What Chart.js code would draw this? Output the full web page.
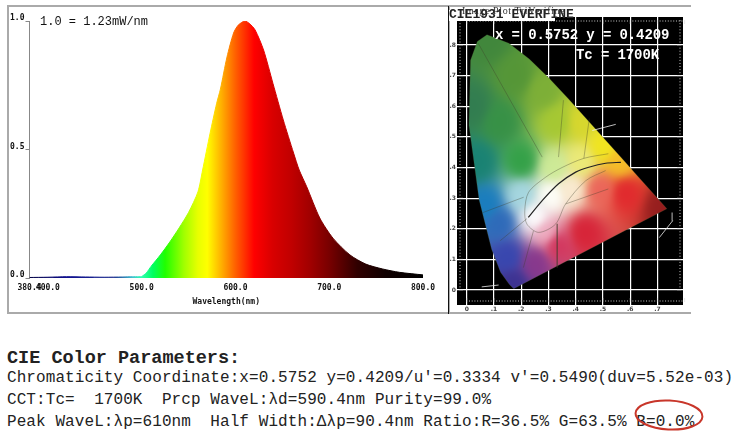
<!DOCTYPE html>
<html>
<head>
<meta charset="utf-8">
<script src="https://cdn.jsdelivr.net/npm/chart.js@4/dist/chart.umd.min.js"></script>
<style>
html, body { margin: 0; padding: 0; background: #fff; }
body { width: 750px; height: 432px; position: relative; overflow: hidden; }
canvas { position: absolute; }
.frame { position: absolute; box-sizing: border-box; }
.t { position: absolute; white-space: pre; font-family: "Liberation Mono", monospace; color: #222; }
</style>
</head>
<body>
<div class="frame" style="left:7px;top:5px;width:684px;height:309px;border:2px solid #aaa;border-right:none"></div>
<div class="frame" style="left:7px;top:5px;width:443px;height:309px;border-right:1px solid #aaa"></div>
<canvas id="spectrum" width="449" height="314" style="left:0;top:0"></canvas>
<canvas id="cie" width="242" height="307" style="left:449px;top:7px"></canvas>
<div class="frame" style="left:448px;top:6px;width:1px;height:308px;background:#111"></div>

<div class="t" style="left:40px;top:15px;font-size:12px;color:#111">1.0 = 1.23mW/nm</div>

<div class="t" style="left:449px;top:10px;width:106px;height:11px;background:#fff"></div>
<div class="t" style="left:449px;top:7px;font-size:13px;font-weight:bold;color:#222">CIE1931 EVERFINE</div>
<div class="t" style="left:462px;top:5px;font-size:10px;font-family:'Liberation Serif';color:#333;letter-spacing:.6px">Image Plot TriVerifine</div>
<div class="t" style="left:495px;top:27px;font-size:14px;font-weight:bold;color:#fff;letter-spacing:-.1px">x = 0.5752 y = 0.4209</div>
<div class="t" style="left:576px;top:47px;font-size:14px;font-weight:bold;color:#fff;letter-spacing:-.1px">Tc = 1700K</div>

<div class="t" style="left:7px;top:348px;font-size:18.5px;font-weight:bold">CIE Color Parameters:</div>
<div class="t" style="left:7px;top:369px;font-size:16px;letter-spacing:.08px">Chromaticity Coordinate:x=0.5752 y=0.4209/u'=0.3334 v'=0.5490(duv=5.52e-03)</div>
<div class="t" style="left:7px;top:391px;font-size:16px;letter-spacing:.08px">CCT:Tc=  1700K  Prcp WaveL:λd=590.4nm Purity=99.0%</div>
<div class="t" style="left:7px;top:413px;font-size:16px;letter-spacing:.08px">Peak WaveL:λp=610nm  Half Width:Δλp=90.4nm Ratio:R=36.5% G=63.5% B=0.0%</div>
<svg style="position:absolute;left:630px;top:395px" width="80" height="37"><ellipse cx="39" cy="20" rx="33.5" ry="14.5" fill="none" stroke="#c8362a" stroke-width="2" transform="rotate(3 39 20)"/></svg>

<script>
// spectrum
var wavelengths = [380.4,400,420,440,460,480,490,497,500,505,510,520,530,540,550,560,565,573,580,584,591,598,603,610,615,621,630,640,651,662,668,676,690,704,722,739,757,775,800];
var power = [0.002,0.003,0.005,0.004,0.003,0.004,0.005,0.005,0.006,0.02,0.045,0.09,0.14,0.195,0.255,0.335,0.42,0.564,0.68,0.735,0.86,0.953,0.984,1,0.99,0.965,0.887,0.757,0.615,0.486,0.42,0.355,0.233,0.155,0.09,0.054,0.035,0.022,0.012];
var xTickValues = [380.4,400,500,600,700,800];
var yTickValues = [0,0.5,1];

var stopWave = [380,420,470,490,500,512,525,545,560,570,585,600,610,620,640,660,680,700,730,760,800];
var stopColor = ['#000040','#101090','#203090','#40c0d0','#30ffb0','#00ff60','#20ff00','#a0ff00','#e8ff00','#ffff00','#ffb000','#ff6000','#ff3000','#ff0000','#d80000','#c00000','#a00000','#780000','#300000','#100000','#000000'];

// CIE diagram
var locusX = [0.1741,0.1714,0.1566,0.1241,0.0913,0.0454,0.0082,0.0139,0.0389,0.0743,0.1547,0.2296,0.3016,0.3731,0.4441,0.5125,0.5752,0.6270,0.6915,0.7260,0.7347,0.1741];
var locusY = [0.0050,0.0051,0.0177,0.0578,0.1327,0.2950,0.5384,0.7502,0.8120,0.8338,0.8059,0.7543,0.6923,0.6245,0.5547,0.4866,0.4242,0.3725,0.3083,0.2740,0.2653,0.0050];
var planckX = [0.226,0.277,0.337,0.40,0.448,0.51,0.566];
var planckY = [0.237,0.292,0.347,0.385,0.401,0.414,0.417];
var whiteX = [0.510,0.437,0.363,0.326,0.264,0.221,0.213,0.227,0.289,0.35,0.43,0.52];
var whiteY = [0.390,0.357,0.281,0.215,0.188,0.215,0.259,0.319,0.368,0.40,0.43,0.445];
var spokes = [
  [[0.06,0.253],[0.209,0.303]],
  [[0.123,0.161],[0.221,0.233]],
  [[0.245,0.193],[0.208,0.073]],
  [[0.332,0.216],[0.332,0.073]],
  [[0.042,0.806],[0.277,0.434]],
  [[0.355,0.62],[0.337,0.434]],
  [[0.363,0.281],[0.52,0.33]],
  [[0.45,0.56],[0.43,0.43]]
];
var callouts = [
  [[0.707,0.171],[0.756,0.226],[0.754,0.253]],
  [[0.055,0.01],[0.117,0.016]],
  [[0.461,0.521],[0.547,0.541]]
];
var cieTicks = [0,0.1,0.2,0.3,0.4,0.5,0.6,0.7];
var cieYTicks = [0,0.1,0.2,0.3,0.4,0.5,0.6,0.7,0.8];

// colour anchors for the diagram, x, y, r, g, b
var anchors = [
  [0.08,0.82,65,135,60],[0.02,0.60,50,125,80],[0.18,0.70,85,150,55],[0.28,0.65,125,175,55],
  [0.04,0.42,25,130,115],[0.12,0.55,55,145,70],[0.20,0.42,50,160,70],[0.33,0.55,165,200,50],
  [0.42,0.55,215,215,45],[0.50,0.47,240,230,30],[0.56,0.42,245,190,40],[0.42,0.42,235,235,120],
  [0.32,0.40,205,235,150],[0.07,0.28,25,125,190],[0.12,0.22,45,105,185],[0.20,0.31,165,215,225],
  [0.31,0.31,255,255,250],[0.25,0.24,255,255,255],[0.38,0.33,250,235,210],[0.15,0.11,55,70,175],
  [0.17,0.02,60,50,145],[0.25,0.09,135,55,140],[0.33,0.15,210,50,90],[0.43,0.19,215,35,55],
  [0.58,0.32,225,40,45],[0.72,0.27,150,30,30],[0.49,0.33,235,100,90],[0.29,0.19,240,175,195]
];

var monoTick = { family: '"DejaVu Sans Mono", monospace', size: 8, weight: 'bold' };

function mixStops(chart) {
  var a = chart.chartArea, sx = chart.scales.x;
  var g = chart.ctx.createLinearGradient(a.left, 0, a.right, 0);
  for (var i = 0; i < stopWave.length; i++) {
    var p = (sx.getPixelForValue(stopWave[i]) - a.left) / (a.right - a.left);
    g.addColorStop(Math.min(1, Math.max(0, p)), stopColor[i]);
  }
  return g;
}

function specFill(ctx) {
  if (!ctx.chart.chartArea) return '#c00';
  return mixStops(ctx.chart);
}

new Chart(document.getElementById('spectrum'), {
  type: 'line',
  data: {
    datasets: [{
      data: wavelengths.map(function (w, i) { return { x: w, y: power[i] }; }),
      fill: 'origin',
      backgroundColor: specFill,
      borderColor: specFill,
      borderWidth: 1,
      tension: 0.25,
      pointRadius: 0
    }]
  },
  options: {
    responsive: false,
    animation: false,
    devicePixelRatio: 1,
    events: [],
    layout: { padding: { left: 0, top: 21, right: 26, bottom: 7 } },
    plugins: { legend: { display: false }, tooltip: { enabled: false } },
    scales: {
      x: {
        type: 'linear', min: 380.4, max: 800,
        afterBuildTicks: function (s) { s.ticks = xTickValues.map(function (v) { return { value: v }; }); },
        afterFit: function (s) { s.height = 29; },
        grid: { display: false, drawTicks: false },
        border: { display: false },
        title: { display: true, text: 'Wavelength(nm)', color: '#111', font: monoTick, padding: { top: 6, bottom: 0 } },
        ticks: { autoSkip: false, maxRotation: 0, color: '#111', font: monoTick, padding: 5,
          callback: function (v) { return v.toFixed(1); } }
      },
      y: {
        min: 0, max: 1,
        afterBuildTicks: function (s) { s.ticks = yTickValues.map(function (v) { return { value: v }; }); },
        afterFit: function (s) { s.width = 29.5; },
        grid: { drawOnChartArea: false, color: '#888', tickLength: 4 },
        border: { color: '#888', width: 1 },
        ticks: { color: '#111', font: monoTick, padding: 1, labelOffset: -3,
          callback: function (v) { return v.toFixed(1); } }
      }
    }
  }
});

// paints the diagram colours once, then it is used as the fill of the locus
var meshPattern = null;
function meshFill(ctx) {
  var chart = ctx.chart;
  if (!chart.chartArea) return '#888';
  if (meshPattern) return meshPattern;
  var a = chart.chartArea, sx = chart.scales.x, sy = chart.scales.y;
  var off = document.createElement('canvas');
  off.width = chart.width; off.height = chart.height;
  var o = off.getContext('2d');
  var img = o.createImageData(off.width, off.height);
  for (var py = Math.floor(a.top); py < a.bottom; py++) {
    for (var px = Math.floor(a.left); px < a.right; px++) {
      var vx = sx.getValueForPixel(px), vy = sy.getValueForPixel(py);
      var r = 0, g = 0, b = 0, w = 0;
      for (var i = 0; i < anchors.length; i++) {
        var c = anchors[i];
        var d = (vx - c[0]) * (vx - c[0]) + (vy - c[1]) * (vy - c[1]) + 0.0012;
        var k = 1 / (d * d);
        r += k * c[2]; g += k * c[3]; b += k * c[4]; w += k;
      }
      var n = (py * off.width + px) * 4;
      img.data[n] = r / w; img.data[n + 1] = g / w; img.data[n + 2] = b / w; img.data[n + 3] = 255;
    }
  }
  o.putImageData(img, 0, 0);
  meshPattern = chart.ctx.createPattern(off, 'no-repeat');
  return meshPattern;
}

function pairs(xs, ys) {
  return xs.map(function (x, i) { return { x: x, y: ys[i] }; });
}

function polyLine(s, color, width) {
  return { data: s.map(function (p) { return { x: p[0], y: p[1] }; }), showLine: true, borderColor: color, borderWidth: width, pointRadius: 0, order: 1 };
}
var thinLines = spokes.map(function (s) { return polyLine(s, 'rgba(60,60,40,.5)', 0.7); });
var whiteLines = callouts.map(function (s) { return polyLine(s, '#eee', 0.8); });

var black = {
  id: 'black',
  beforeDraw: function (chart) {
    var a = chart.chartArea;
    chart.ctx.fillStyle = '#000';
    chart.ctx.fillRect(a.left, a.top, a.right - a.left, a.bottom - a.top);
  },
  // little ruler marks round the black area
  afterDatasetsDraw: function (chart) {
    var a = chart.chartArea, c = chart.ctx, sx = chart.scales.x, sy = chart.scales.y;
    c.strokeStyle = '#ccc'; c.lineWidth = 0.5; c.beginPath();
    for (var i = 0; i <= 80; i++) {
      var px = sx.getPixelForValue(i / 100);
      c.moveTo(px, a.top + 3); c.lineTo(px, a.top + (i % 10 ? 5 : 7));
      c.moveTo(px, a.bottom - 3); c.lineTo(px, a.bottom - (i % 10 ? 5 : 7));
    }
    for (var j = 0; j <= 88; j++) {
      var py = sy.getPixelForValue(j / 100);
      c.moveTo(a.left + 2, py); c.lineTo(a.left + (j % 10 ? 4 : 6), py);
      c.moveTo(a.right - 2, py); c.lineTo(a.right - (j % 10 ? 4 : 6), py);
    }
    c.stroke();
  }
};

function cieLabel(v) {
  return v === 0 ? '0' : v.toFixed(1).slice(1);
}
var tinyTick = { family: '"DejaVu Sans", sans-serif', size: 6, weight: 'bold' };
function cieAxis(extra, list, size, isH) {
  return Object.assign({
    type: 'linear',
    afterBuildTicks: function (s) { s.ticks = list.map(function (v) { return { value: v }; }); },
    afterFit: function (s) { if (isH) s.height = size; else s.width = size; },
    border: { display: false },
    grid: { color: '#fff', lineWidth: 1.2, tickLength: 0 },
    ticks: { autoSkip: false, maxRotation: 0, color: '#444', font: tinyTick, padding: 1, callback: cieLabel }
  }, extra);
}

new Chart(document.getElementById('cie'), {
  type: 'scatter',
  data: {
    datasets: thinLines.concat(whiteLines, [
      { data: pairs(planckX, planckY), showLine: true, borderColor: '#222', borderWidth: 1.2, pointRadius: 0, tension: 0.3, order: 0 },
      { data: pairs(whiteX, whiteY), showLine: true, borderColor: 'rgba(60,60,40,.5)', borderWidth: 0.7, pointRadius: 0, tension: 0.3, order: 1 },
      { data: pairs(locusX, locusY), showLine: true, fill: 'shape', backgroundColor: meshFill, borderColor: 'rgba(80,100,50,.5)', borderWidth: 0.5, pointRadius: 0, order: 5 }
    ])
  },
  options: {
    responsive: false,
    animation: false,
    devicePixelRatio: 1,
    events: [],
    layout: { padding: 0 },
    plugins: { legend: { display: false }, tooltip: { enabled: false } },
    scales: {
      x: cieAxis({ position: 'bottom', min: -0.0358, max: 0.794 }, cieTicks, 9, true),
      xTop: cieAxis({ position: 'top', min: -0.0358, max: 0.794, grid: { display: false } }, cieTicks, 10, true),
      y: cieAxis({ position: 'left', min: -0.0492, max: 0.8918 }, cieYTicks, 8, false),
      yRight: cieAxis({ position: 'right', min: -0.0492, max: 0.8918, grid: { display: false } }, cieYTicks, 8, false)
    }
  },
  plugins: [black]
});
</script>
</body>
</html>
